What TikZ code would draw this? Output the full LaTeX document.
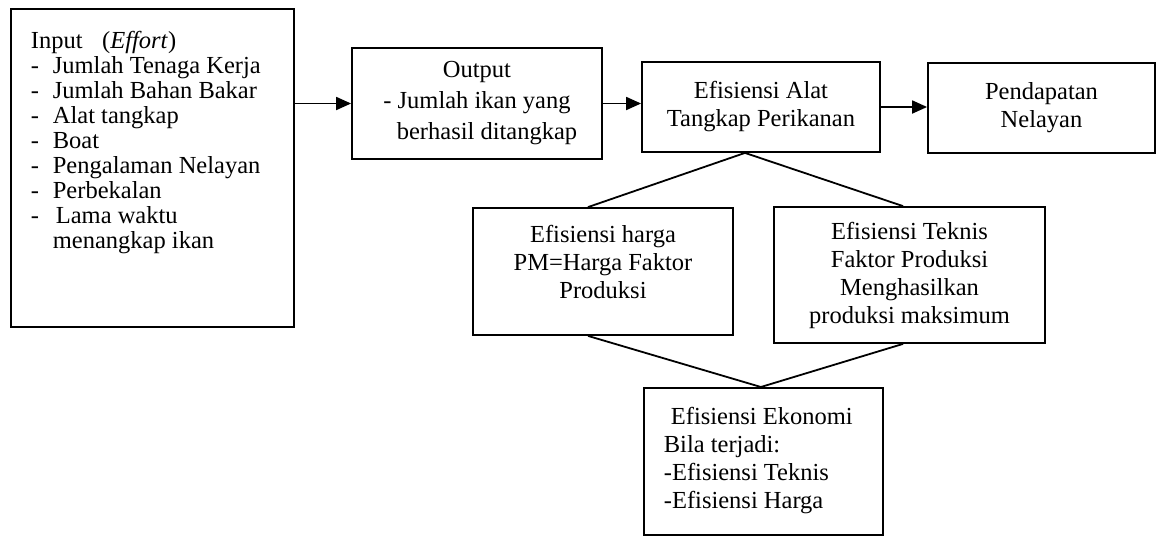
\documentclass[tikz,border=0pt]{standalone}
\usepackage{fontspec}
\setmainfont{Liberation Serif}
\usetikzlibrary{arrows.meta}
\usetikzlibrary{calc}

\newcommand{\dashline}[1]{\makebox[22pt][l]{-}#1\\}

\begin{document}
\begin{tikzpicture}[x=1pt, y=-1pt,
  main_box/.style={draw, line width=1.8pt, inner sep=0pt, align=center, font=\fontsize{24.5}{28}\selectfont},
  main_arrow/.style={line width=1.8pt, -{Triangle[length=15pt,width=13pt]}},
  main_line/.style={line width=1.8pt}]
				\useasboundingbox (0,0) rectangle (1165,536);
				\node[main_box, anchor=north west](1) at (10,8){\parbox[c][318pt][t]{283pt}{\fontsize{24.5}{25}\selectfont\leftskip=20pt\vspace*{22pt}%
					Input\hspace{0.55em} (\textit{Effort})\\
					\dashline{Jumlah Tenaga Kerja}
					\dashline{Jumlah Bahan Bakar}
					\dashline{Alat tangkap}
					\dashline{Boat}
					\dashline{Pengalaman Nelayan}
					\dashline{Perbekalan}
					\makebox[25pt][l]{-}Lama waktu\\
					\hspace*{22pt}menangkap ikan}};
				\node[main_box, minimum width=250pt, minimum height=111pt, font=\fontsize{24.5}{31}\selectfont](2) at (477,103.5){Output\\ - Jumlah ikan yang\hspace*{20pt}\\ \hspace*{20pt}berhasil ditangkap};
				\node[main_box, minimum width=238pt, minimum height=90pt](3) at (761,107){Efisiensi Alat\\ Tangkap Perikanan};
				\node[main_box, minimum width=227pt, minimum height=90pt](4) at (1041.5,108){Pendapatan\\ Nelayan};
				\node[main_box, minimum width=260pt, minimum height=127pt, text depth=19pt](5) at (603,271.5){Efisiensi harga\\ PM=Harga Faktor\\ Produksi};
				\node[main_box, minimum width=271pt, minimum height=136pt](6) at (909.5,275){Efisiensi Teknis\\ Faktor Produksi\\ Menghasilkan\\ produksi maksimum};
				\node[main_box, anchor=north west](7) at (643,387){\parbox[c][147pt][t]{239pt}{\fontsize{24.5}{28}\selectfont\leftskip=20pt\vspace*{19pt}%
					\hspace*{7pt}Efisiensi Ekonomi\\
					Bila terjadi:\\
					-Efisiensi Teknis\\
					-Efisiensi Harga}};
				\draw[main_arrow] (1.east |- 2.west) -- (2.west);
				\draw[main_arrow] (2.east) -- (2.east -| 3.west);
				\draw[main_arrow] (3.east) -- (3.east -| 4.west);
				\draw[main_line] ([xshift=-15pt]5.north) -- ([xshift=-16pt]3.south) -- ([xshift=-6.5pt]6.north);
				\draw[main_line] ([xshift=-15pt]5.south) -- ([xshift=-2.5pt]7.north) -- ([xshift=-6.5pt]6.south);
			\end{tikzpicture}
\end{document}
